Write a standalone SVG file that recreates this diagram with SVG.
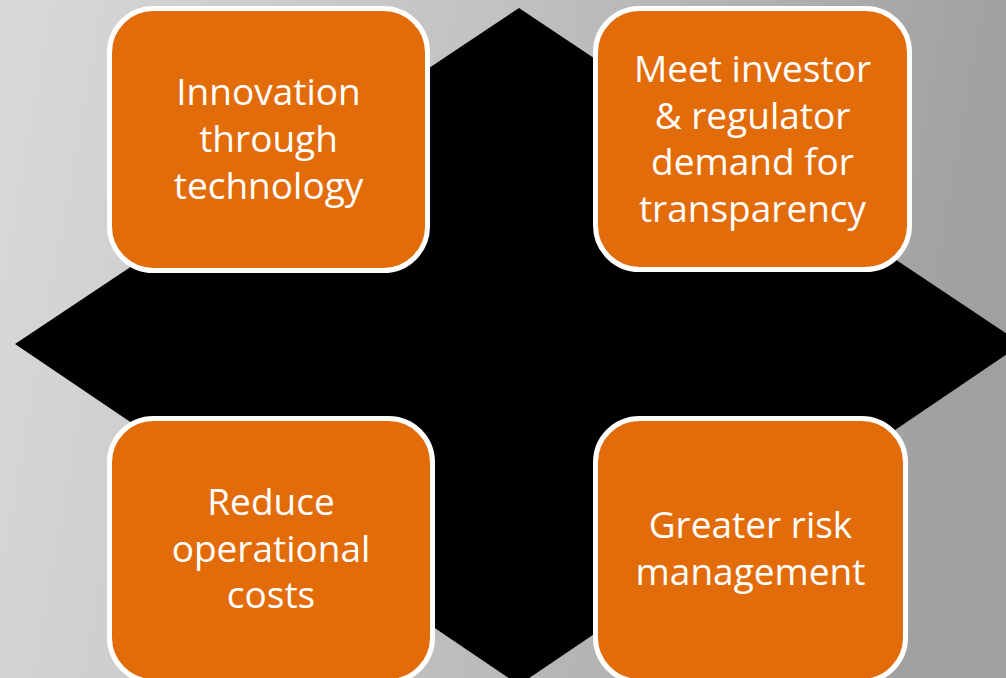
<svg xmlns="http://www.w3.org/2000/svg" width="1006" height="678" viewBox="0 0 1006 678">
  <defs>
    <linearGradient id="bg" x1="0" y1="0" x2="1" y2="0.12">
      <stop offset="0" stop-color="#d9d9d9"/>
      <stop offset="0.5" stop-color="#c1c1c1"/>
      <stop offset="1" stop-color="#a0a0a0"/>
    </linearGradient>
  </defs>
  <style>
    .box { fill: #e36c0a; stroke: #ffffff; stroke-width: 5; }
    .lbl { fill: #ffffff; font-family: "Open Sans", "Noto Sans", sans-serif; font-size: 37px; text-anchor: middle; }
  </style>
  <rect x="0" y="0" width="1006" height="678" fill="url(#bg)"/>
  <g id="connectors">
    <polygon points="519,8 1022,344 519,685 15,344" fill="#000000"/>
  </g>
  <g id="node-innovation">
    <rect class="box" x="109.5" y="8.5" width="318" height="262" rx="44" ry="44"/>
    <text class="lbl" x="268.5"><tspan x="268.5" y="105">Innovation</tspan><tspan x="268.5" y="152">through</tspan><tspan x="268.5" y="199">technology</tspan></text>
  </g>
  <g id="node-transparency">
    <rect class="box" x="595.5" y="8.5" width="314" height="261" rx="44" ry="44"/>
    <text class="lbl" x="752.5"><tspan x="752.5" y="82">Meet investor</tspan><tspan x="752.5" y="128.5">&amp; regulator</tspan><tspan x="752.5" y="175">demand for</tspan><tspan x="752.5" y="222">transparency</tspan></text>
  </g>
  <g id="node-costs">
    <rect class="box" x="109.5" y="418.5" width="323" height="263" rx="44" ry="44"/>
    <text class="lbl" x="271"><tspan x="271" y="515">Reduce</tspan><tspan x="271" y="561.5">operational</tspan><tspan x="271" y="608">costs</tspan></text>
  </g>
  <g id="node-risk">
    <rect class="box" x="595.5" y="418.5" width="310" height="263" rx="44" ry="44"/>
    <text class="lbl" x="750.5"><tspan x="750.5" y="538">Greater risk</tspan><tspan x="750.5" y="585">management</tspan></text>
  </g>
</svg>
